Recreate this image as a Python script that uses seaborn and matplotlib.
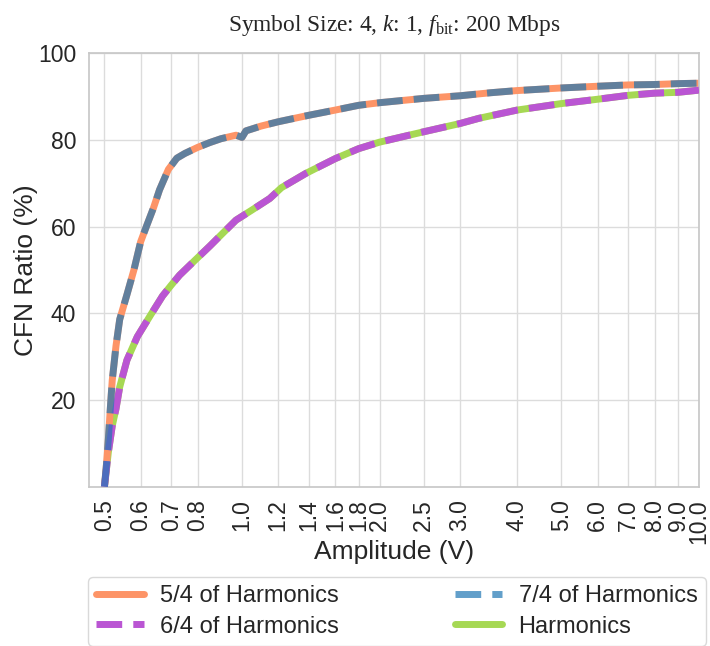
import matplotlib
matplotlib.use("Agg")
import matplotlib.pyplot as plt
import seaborn as sns
import pandas as pd

# Amplitude sweep (V) and CFN ratio (%) for each harmonic setting
amp_5_4 = [0.50, 0.505, 0.51, 0.515, 0.52, 0.53, 0.54, 0.56, 0.58, 0.60, 0.62, 0.64,
           0.66, 0.69, 0.72, 0.75, 0.80, 0.85, 0.90, 0.97, 1.00, 1.02, 1.10, 1.20,
           1.40, 1.60, 1.80, 2.00, 2.50, 3.00, 3.50, 4.00, 5.00, 6.00, 7.00, 8.00,
           9.00, 10.0]
cfn_5_4 = [0.0, 5.0, 11.0, 18.0, 24.5, 32.5, 38.6, 44.3, 50.0, 56.5, 60.5, 64.3,
           68.5, 73.2, 75.8, 76.9, 78.3, 79.4, 80.3, 81.1, 80.6, 82.1, 83.2, 84.2,
           85.7, 86.9, 88.0, 88.6, 89.6, 90.2, 90.9, 91.4, 92.0, 92.4, 92.7, 92.8,
           93.0, 93.1]

amp_7_4 = [0.50, 0.505, 0.51, 0.515, 0.52, 0.53, 0.54, 0.56, 0.58, 0.60, 0.62, 0.64,
           0.66, 0.69, 0.72, 0.75, 0.80, 0.85, 0.90, 0.97, 1.00, 1.02, 1.10, 1.20,
           1.40, 1.60, 1.80, 2.00, 2.50, 3.00, 3.50, 4.00, 5.00, 6.00, 7.00, 8.00,
           9.00, 10.0]
cfn_7_4 = [0.0, 5.0, 11.0, 18.0, 24.5, 32.5, 38.6, 44.3, 50.0, 56.5, 60.5, 64.3,
           68.5, 73.2, 75.8, 76.9, 78.3, 79.4, 80.3, 81.1, 80.6, 82.1, 83.2, 84.2,
           85.7, 86.9, 88.0, 88.6, 89.6, 90.2, 90.9, 91.4, 92.0, 92.4, 92.7, 92.8,
           93.0, 93.1]

amp_6_4 = [0.50, 0.51, 0.52, 0.53, 0.54, 0.56, 0.59, 0.63, 0.67, 0.70, 0.73, 0.79,
           0.85, 0.89, 0.97, 1.05, 1.15, 1.22, 1.38, 1.60, 1.80, 2.00, 2.50, 3.00,
           3.30, 4.00, 5.00, 6.00, 7.00, 8.00, 9.00, 10.0]
cfn_6_4 = [0.0, 8.0, 14.0, 18.0, 23.0, 29.2, 34.6, 39.5, 44.0, 46.5, 48.8, 52.3,
           55.5, 57.6, 61.5, 63.8, 66.5, 69.0, 72.3, 75.7, 78.0, 79.5, 81.9, 83.8,
           85.0, 86.9, 88.4, 89.4, 90.3, 90.8, 91.0, 91.5]

amp_harm = [0.50, 0.51, 0.52, 0.53, 0.54, 0.56, 0.59, 0.63, 0.67, 0.70, 0.73, 0.79,
            0.85, 0.89, 0.97, 1.05, 1.15, 1.22, 1.38, 1.60, 1.80, 2.00, 2.50, 3.00,
            3.30, 4.00, 5.00, 6.00, 7.00, 8.00, 9.00, 10.0]
cfn_harm = [0.0, 8.0, 14.0, 18.0, 23.0, 29.2, 34.6, 39.5, 44.0, 46.5, 48.8, 52.3,
            55.5, 57.6, 61.5, 63.8, 66.5, 69.0, 72.3, 75.7, 78.0, 79.5, 81.9, 83.8,
            85.0, 86.9, 88.4, 89.4, 90.3, 90.8, 91.0, 91.5]

x_ticks = [0.5, 0.6, 0.7, 0.8, 1.0, 1.2, 1.4, 1.6, 1.8, 2.0, 2.5, 3.0, 4.0, 5.0,
           6.0, 7.0, 8.0, 9.0, 10.0]
y_ticks = [20, 40, 60, 80, 100]

sns.set_theme(style="whitegrid")
plt.rcParams["font.family"] = ["Liberation Sans", "DejaVu Sans"]
plt.rcParams["mathtext.fontset"] = "custom"
plt.rcParams["mathtext.rm"] = "Liberation Serif"
plt.rcParams["mathtext.it"] = "Liberation Serif:italic"
plt.rcParams["lines.solid_capstyle"] = "round"
plt.rcParams["axes.edgecolor"] = "#c8c8c8"
plt.rcParams["grid.color"] = "#dcdcdc"

fig = plt.figure(figsize=(7.1, 6.46), dpi=100)
ax = fig.add_axes([0.125, 0.2466, 0.8595, 0.6709])

series = [
    ("5/4 of Harmonics", amp_5_4, cfn_5_4, "#FD9467", "-", 1.0, 2),
    ("6/4 of Harmonics", amp_6_4, cfn_6_4, "#BA55D3", "--", 1.0, 3),
    ("7/4 of Harmonics", amp_7_4, cfn_7_4, "#1f77b4", "--", 0.7, 4),
    ("Harmonics", amp_harm, cfn_harm, "#A6D854", "-", 1.0, 1),
]

for name, xs, ys, color, ls, alpha, z in series:
    df = pd.DataFrame({"Amplitude": xs, "CFN": ys})
    sns.lineplot(data=df, x="Amplitude", y="CFN", ax=ax, color=color,
                 linestyle=ls, linewidth=5, alpha=alpha, zorder=z, label=name)

ax.set_xscale("log")
ax.set_xlim(0.462, 10.0)
ax.set_ylim(0, 100)
ax.set_xticks(x_ticks)
ax.set_xticklabels([f"{t:.1f}" for t in x_ticks], rotation=90)
ax.xaxis.set_minor_locator(matplotlib.ticker.NullLocator())
ax.set_yticks(y_ticks)
ax.tick_params(axis="both", labelsize=16.5, colors="#262626", pad=3)
ax.set_xlabel("Amplitude (V)", fontsize=19, color="#262626", labelpad=-3)
ax.set_ylabel("CFN Ratio (%)", fontsize=19, color="#262626", labelpad=0)
ax.set_title(r"Symbol Size: 4, $k$: 1, $f_{\rm bit}$: 200 Mbps",
             fontsize=16.8, family="Liberation Serif", pad=16)

handles, labels = ax.get_legend_handles_labels()
ax.get_legend().remove()
fig.legend(handles, labels, loc="lower left", ncol=2, mode="expand",
           bbox_to_anchor=(0.124, 0.0, 0.870, 0.11), fontsize=17,
           frameon=True, fancybox=True, edgecolor="#d0d0d0",
           handlelength=2.0, handletextpad=0.7, borderaxespad=0.0,
           labelspacing=0.35, borderpad=0.35)

fig.savefig("out.png", dpi=100)
